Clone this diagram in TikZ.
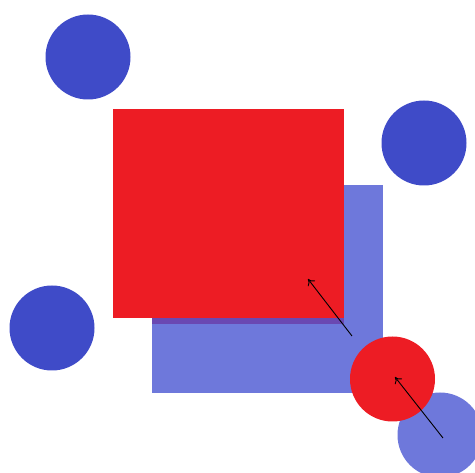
\documentclass[tikz,border=0pt]{standalone}
\usetikzlibrary{arrows.meta}
\definecolor{dblue}{RGB}{63,75,200}
\definecolor{lblue}{RGB}{110,120,219}
\definecolor{myred}{RGB}{237,28,36}
\definecolor{mypurple}{RGB}{106,72,178}
\tikzset{
  dot/.style={circle,minimum size=85pt,inner sep=0pt,draw=none},
  sq/.style={draw=none,inner sep=0pt},
  arr/.style={-{To[length=6pt,width=9pt]},black,line width=0.9pt}
}
\begin{document}
\begin{tikzpicture}[x=1pt,y=-1pt]
\useasboundingbox (0,0) rectangle (475,473);
\begin{scope}
\clip (0,0) rectangle (475,473);
\node[dot,fill=dblue] (c1) at (88,57) {};
\node[dot,fill=dblue] (c2) at (424,143) {};
\node[dot,fill=dblue] (c3) at (52,328) {};
\node[sq,fill=lblue,minimum width=231pt,minimum height=208pt] (bsq) at (267.5,289) {};
\node[sq,fill=mypurple,minimum width=192pt,minimum height=6pt] (strip) at (248,321) {};
\node[sq,fill=myred,minimum width=231pt,minimum height=209pt] (rsq) at (228.5,213.5) {};
\node[dot,fill=lblue] (c5) at (440,435) {};
\node[dot,fill=myred] (c4) at (392.5,379) {};
\coordinate (a1s) at (352,336);
\coordinate (a1e) at (308,279);
\coordinate (a2s) at (443,438);
\coordinate (a2e) at (395,377);
\draw[arr] (a1s) -- (a1e);
\draw[arr] (a2s) -- (a2e);
\end{scope}
\end{tikzpicture}
\end{document}
